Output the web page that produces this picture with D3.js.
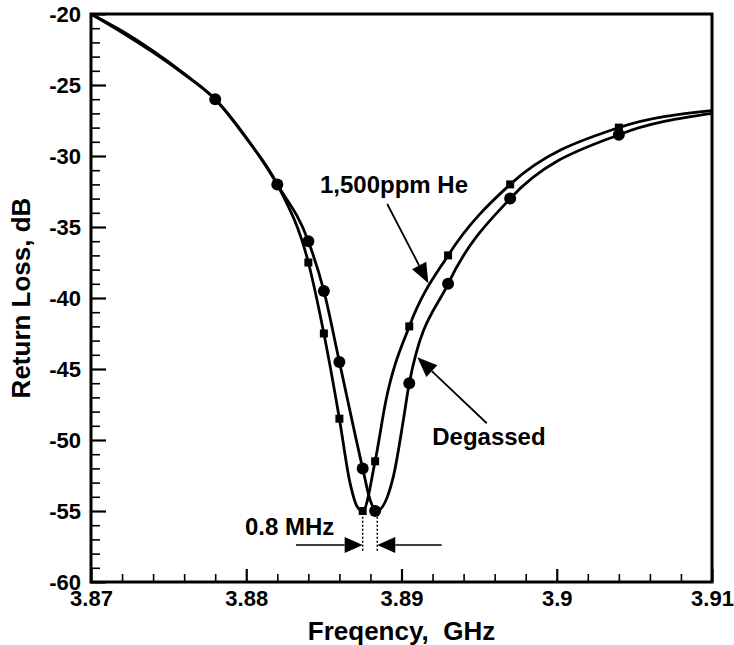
<!DOCTYPE html>
<html>
<head>
<meta charset="utf-8">
<script src="https://cdn.jsdelivr.net/npm/d3@7"></script>
<style>
  html, body { margin: 0; padding: 0; background: #fff; }
  svg { display: block; }
  text { font-family: "Liberation Sans", Arial, Helvetica, sans-serif; font-weight: bold; fill: #000; }
</style>
</head>
<body>
<svg id="chart" width="734" height="645"></svg>
<script>
// ---------- data ----------
const xDomain = [3.87, 3.91];
const yDomain = [-60, -20];
const xTickValues = [3.87, 3.88, 3.89, 3.90, 3.91];
const xTickLabels = ["3.87", "3.88", "3.89", "3.9", "3.91"];
const yTickValues = [-20, -25, -30, -35, -40, -45, -50, -55, -60];
const yTickLabels = ["-20", "-25", "-30", "-35", "-40", "-45", "-50", "-55", "-60"];

// 1,500ppm He : curve points and square markers
const heLine = [
  [3.870, -20], [3.872, -21.3], [3.874, -22.7], [3.876, -24.25], [3.878, -26], [3.880, -28.75],
  [3.882, -32], [3.884, -37.5], [3.885, -42.5], [3.886, -48.5], [3.88668, -53.0],
  [3.88715, -54.7], [3.8875, -55], [3.8883, -51.5], [3.8890, -47.2], [3.8905, -42],
  [3.893, -37], [3.897, -32], [3.904, -28], [3.910, -26.8]
];
const heMarkers = [
  [3.878, -26], [3.882, -32], [3.884, -37.5], [3.885, -42.5], [3.886, -48.5],
  [3.8875, -55], [3.8883, -51.5], [3.8905, -42], [3.893, -37], [3.897, -32], [3.904, -28]
];

// Degassed : curve points and circle markers
const degLine = [
  [3.870, -20], [3.872, -21.2], [3.874, -22.6], [3.876, -24.2], [3.878, -26], [3.880, -28.7],
  [3.882, -32], [3.884, -36], [3.885, -39.5], [3.886, -44.5], [3.8875, -52], [3.8880, -54.3],
  [3.8884, -55], [3.88947, -52.6], [3.89012, -48.6], [3.8905, -46],
  [3.893, -39], [3.897, -33], [3.904, -28.5], [3.910, -27]
];
const degMarkers = [
  [3.878, -26], [3.882, -32], [3.884, -36], [3.885, -39.5], [3.886, -44.5],
  [3.8875, -52], [3.8883, -55], [3.8905, -46], [3.893, -39], [3.897, -33], [3.904, -28.5]
];

// annotations (data coordinates)
const heLabel = { text: "1,500ppm He", x: 3.88475, y: -32.58 };
const heArrow = { from: [3.88908, -33.38], to: [3.89173, -38.96] };
const degLabel = { text: "Degassed", x: 3.89198, y: -50.35 };
const degArrow = { from: [3.89549, -48.82], to: [3.89102, -44.18] };
const mhzLabel = { text: "0.8 MHz", x: 3.87992, y: -56.69 };
const mhzArrows = [
  { from: [3.88320, -57.39], to: [3.88750, -57.39] },
  { from: [3.89259, -57.39], to: [3.88844, -57.39] }
];
const mhzDotted = [3.88750, 3.88844];
const mhzDottedY = [-55.4, -57.8];

// ---------- layout ----------
const svg = d3.select("#chart");
const L = 91, R = 712, T = 14, B = 582;
const x = d3.scaleLinear().domain(xDomain).range([L, R]);
const y = d3.scaleLinear().domain(yDomain).range([B, T]);

// minor ticks
const xMinor = d3.range(3.87, 3.9101, 0.002).filter(v => !xTickValues.some(t => Math.abs(t - v) < 1e-6));
const yMinor = d3.range(-60, -19.9, 1).filter(v => v % 5 !== 0);

// bottom axis
svg.append("g").attr("transform", `translate(0,${B})`)
  .call(d3.axisBottom(x).tickValues(xMinor).tickSize(-8).tickFormat(""))
  .call(g => g.selectAll("line").attr("stroke", "#000").attr("stroke-width", 1.6))
  .call(g => g.select(".domain").remove());
svg.append("g").attr("transform", `translate(0,${B})`)
  .call(d3.axisBottom(x).tickValues(xTickValues).tickSize(-13).tickPadding(8)
        .tickFormat((d, i) => xTickLabels[i]))
  .call(g => g.selectAll("line").attr("stroke", "#000").attr("stroke-width", 2.2))
  .call(g => g.selectAll("text").attr("font-size", 22))
  .call(g => g.select(".domain").remove());

// left axis
svg.append("g").attr("transform", `translate(${L},0)`)
  .call(d3.axisLeft(y).tickValues(yMinor).tickSize(-9).tickFormat(""))
  .call(g => g.selectAll("line").attr("stroke", "#000").attr("stroke-width", 1.6))
  .call(g => g.select(".domain").remove());
svg.append("g").attr("transform", `translate(${L},0)`)
  .call(d3.axisLeft(y).tickValues(yTickValues).tickSize(-15).tickPadding(10)
        .tickFormat((d, i) => yTickLabels[i]))
  .call(g => g.selectAll("line").attr("stroke", "#000").attr("stroke-width", 2.2))
  .call(g => g.selectAll("text").attr("font-size", 22))
  .call(g => g.select(".domain").remove());

// frame
svg.append("rect").attr("x", L).attr("y", T).attr("width", R - L).attr("height", B - T)
  .attr("fill", "none").attr("stroke", "#000").attr("stroke-width", 3);

// axis titles
svg.append("text").attr("x", (L + R) / 2).attr("y", 640).attr("text-anchor", "middle")
  .attr("font-size", 26).style("white-space", "pre").text("Freqency,  GHz");
svg.append("text").attr("transform", `translate(30,${(T + B) / 2}) rotate(-90)`)
  .attr("text-anchor", "middle").attr("font-size", 26).text("Return Loss, dB");

// curves
const line = d3.line().x(d => x(d[0])).y(d => y(d[1])).curve(d3.curveMonotoneX);
const plot = svg.append("g");
plot.append("path").datum(heLine).attr("d", line).attr("fill", "none")
  .attr("stroke", "#000").attr("stroke-width", 2.8).attr("stroke-linejoin", "round");
plot.append("path").datum(degLine).attr("d", line).attr("fill", "none")
  .attr("stroke", "#000").attr("stroke-width", 2.8).attr("stroke-linejoin", "round");

// markers
const sq = 8;
plot.selectAll("rect.he").data(heMarkers).join("rect").attr("class", "he")
  .attr("x", d => x(d[0]) - sq / 2).attr("y", d => y(d[1]) - sq / 2)
  .attr("width", sq).attr("height", sq).attr("fill", "#000");
plot.selectAll("circle.deg").data(degMarkers).join("circle").attr("class", "deg")
  .attr("cx", d => x(d[0])).attr("cy", d => y(d[1])).attr("r", 6).attr("fill", "#000");

// arrows
function arrow(a, headLen, headHalf, width) {
  const x1 = x(a.from[0]), y1 = y(a.from[1]), x2 = x(a.to[0]), y2 = y(a.to[1]);
  const dx = x2 - x1, dy = y2 - y1, len = Math.hypot(dx, dy);
  const ux = dx / len, uy = dy / len, px = -uy, py = ux;
  const bx = x2 - ux * headLen, by = y2 - uy * headLen;
  svg.append("line").attr("x1", x1).attr("y1", y1).attr("x2", bx).attr("y2", by)
    .attr("stroke", "#000").attr("stroke-width", width);
  svg.append("polygon").attr("points",
    [[x2, y2], [bx + px * headHalf, by + py * headHalf], [bx - px * headHalf, by - py * headHalf]]
      .map(p => p.join(",")).join(" ")).attr("fill", "#000");
}
arrow(heArrow, 20, 8, 1.8);
arrow(degArrow, 20, 8, 1.8);
mhzArrows.forEach(a => arrow(a, 18, 8, 1.5));

mhzDotted.forEach(v => {
  svg.append("line").attr("x1", x(v)).attr("x2", x(v))
    .attr("y1", y(mhzDottedY[0])).attr("y2", y(mhzDottedY[1]))
    .attr("stroke", "#000").attr("stroke-width", 1.5).attr("stroke-dasharray", "2,2");
});

// annotation labels
[heLabel, degLabel, mhzLabel].forEach(l => {
  svg.append("text").attr("x", x(l.x)).attr("y", y(l.y)).attr("font-size", 24).text(l.text);
});
</script>
</body>
</html>
